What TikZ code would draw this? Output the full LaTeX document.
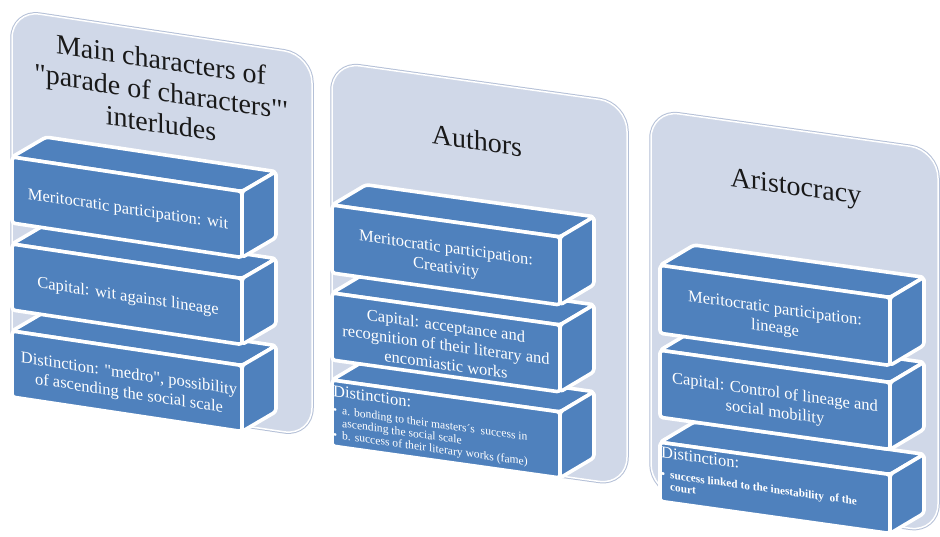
\documentclass[tikz,border=0pt]{standalone}
\usepackage{fontspec}
\setmainfont{Liberation Serif}
\newfontfamily\plainserif{Liberation Serif}
\definecolor{blk}{RGB}{79,129,189}
\definecolor{pnl}{RGB}{208,216,232}
\definecolor{pnledge}{RGB}{180,192,215}
\definecolor{ttl}{RGB}{25,25,25}
\tikzset{
  panelhalo/.style={draw=pnledge, line width=3.5pt, rounded corners=28pt},
  panelbox/.style={fill=pnl, draw=white, line width=1.5pt, rounded corners=28pt},
  face/.style={fill=blk, draw=white, line width=3.6pt, rounded corners=3pt, line join=round},
  blocktext/.style={text=white, align=center, font=\plainserif\fontsize{16.5}{19.5}\selectfont, transform shape, inner sep=0pt},
  headtext/.style={text=white, font=\plainserif\fontsize{16.5}{19.5}\selectfont, transform shape, inner sep=0pt, anchor=base west},
  bullettext/.style={text=white, align=left, transform shape, inner sep=0pt, anchor=north west},
  titletext/.style={text=ttl, align=center, font=\plainserif\fontsize{28}{32}\selectfont, transform shape, inner sep=0pt}
}
\newcommand{\stackblock}[4]{%
  \draw[face] (#1,#2) -- ++(34,-25) -- ++(#3,0) -- ++(-34,25) -- cycle;
  \draw[face] (#1+#3,#2) -- ++(34,-25) -- ++(0,#4) -- ++(-34,25) -- cycle;
  \draw[face] (#1,#2) rectangle ++(#3,#4);
}
\newcommand{\bul}{\makebox[9pt][l]{•}}
\begin{document}
\begin{tikzpicture}[x=1pt,y=-1pt]
\useasboundingbox (0,0) rectangle (940,536);
\fill[white] (0,0) rectangle (940,536);

% ---------- Panel 1 ----------
\begin{scope}[shift={(12,10)}, yslant=-0.15]
  \draw[panelhalo] (0,0) rectangle (300,381);
  \draw[panelbox] (0,0) rectangle (300,381);
  \stackblock{0}{321}{230}{66}
  \stackblock{0}{234}{230}{66}
  \stackblock{0}{147}{230}{66}
  \node[titletext] (t1) at (149,59) {Main characters of\\"parade of characters"'\\interludes};
  \node[blocktext] (a1) at (116,183) {Meritocratic participation: wit};
  \node[blocktext] (a2) at (116,270) {Capital: wit against lineage};
  \node[blocktext] (a3) at (117,357) {Distinction: "medro", possibility\\of ascending the social scale};
\end{scope}

% ---------- Panel 2 ----------
\begin{scope}[shift={(332,62)}, yslant=-0.14]
  \draw[panelhalo] (0,0) rectangle (295,382);
  \draw[panelbox] (0,0) rectangle (295,382);
  \stackblock{0}{318}{228}{66}
  \stackblock{0}{231}{228}{67}
  \stackblock{0}{143}{228}{68}
  \node[titletext, anchor=base] (t2) at (145,68) {Authors};
  \node[blocktext] (b1) at (114,181) {Meritocratic participation:\\Creativity};
  \node[blocktext] (b2) at (114,267) {Capital: acceptance and\\recognition of their literary and\\encomiastic works};
  \node[headtext] (b3) at (1,334) {Distinction:};
  \node[bullettext, font=\plainserif\fontsize{11.6}{12.4}\selectfont] (b4) at (1,343)
    {\bul a. bonding to their masters´s\ \ success in\\\hspace*{9pt}ascending the social scale\\\bul b. success of their literary works (fame)};
\end{scope}

% ---------- Panel 3 ----------
\begin{scope}[shift={(651,110)}, yslant=-0.14]
  \draw[panelhalo] (0,0) rectangle (287,382);
  \draw[panelbox] (0,0) rectangle (287,382);
  \stackblock{9}{331}{230}{59}
  \stackblock{9}{239}{230}{67}
  \stackblock{9}{154}{230}{68}
  \node[titletext, anchor=base] (t3) at (145,65) {Aristocracy};
  \node[blocktext] (c1) at (124,192) {Meritocratic participation:\\lineage};
  \node[blocktext] (c2) at (124,276) {Capital: Control of lineage and\\social mobility};
  \node[headtext] (c3) at (10,346) {Distinction:};
  \node[bullettext, font=\plainserif\fontsize{11.3}{12}\selectfont\bfseries] (c4) at (10,358)
    {\bul success linked to the inestability\ \ of the\\\hspace*{9pt}court};
\end{scope}
\end{tikzpicture}
\end{document}
